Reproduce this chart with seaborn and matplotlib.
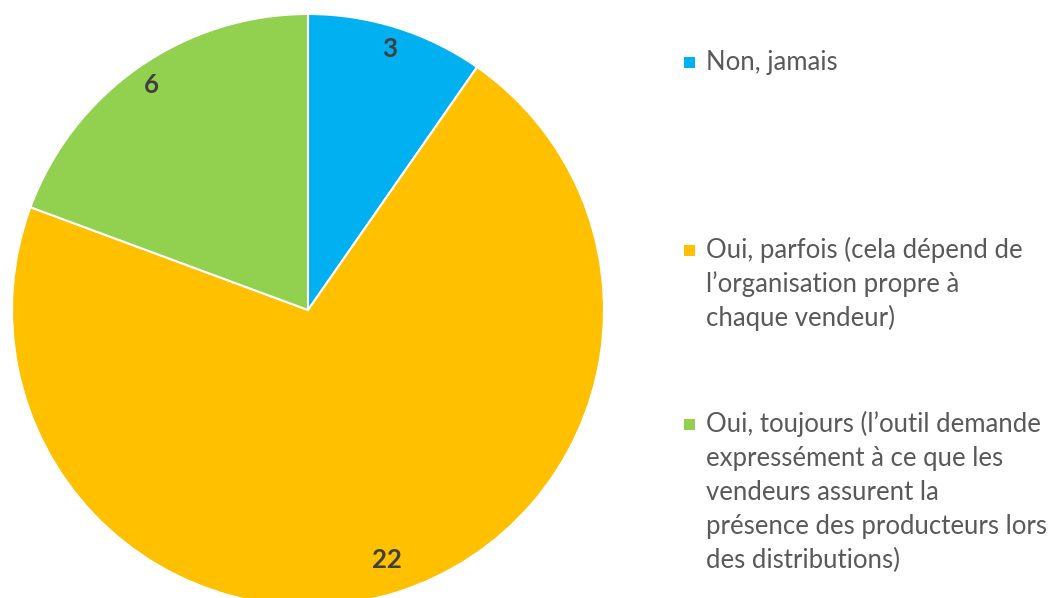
import matplotlib
matplotlib.use("Agg")
import matplotlib.pyplot as plt
import seaborn as sns
import numpy as np
from matplotlib.patches import Rectangle

categories = [
    "Non, jamais",
    "Oui, parfois (cela dépend de\nl\u2019organisation propre à\nchaque vendeur)",
    "Oui, toujours (l\u2019outil demande\nexpressément à ce que les\nvendeurs assurent la\nprésence des producteurs lors\ndes distributions)",
]
counts = [3, 22, 6]
colors = ["#00B0F0", "#FFC000", "#92D050"]

sns.set_style("white")
plt.rcParams["font.family"] = ["Lato", "DejaVu Sans"]

W, H = 1048, 598
fig = plt.figure(figsize=(W / 100, H / 100), dpi=100)
ax = fig.add_axes([0, 0, 1, 1])

total = sum(counts)
cx, cy, R = 308, H - 310, 296
wedges, texts, autotexts = ax.pie(
    counts,
    colors=colors,
    startangle=90,
    counterclock=False,
    center=(cx, cy),
    radius=R,
    pctdistance=0.9,
    autopct=lambda p: f"{round(p * total / 100):d}",
    wedgeprops=dict(edgecolor="white", linewidth=1.5),
    textprops=dict(fontsize=18.5, fontweight="bold", color="#404040"),
)
# nudge the value labels radially (Excel "best fit" look)
label_dist = [0.925, 0.885, 0.925]
for w, t, d in zip(wedges, autotexts, label_dist):
    ang = np.deg2rad((w.theta1 + w.theta2) / 2)
    t.set_position((cx + d * R * np.cos(ang), cy + d * R * np.sin(ang)))

ax.set_xlim(0, W)
ax.set_ylim(0, H)
ax.set_aspect("equal")
ax.axis("off")

# legend, placed by hand (first-line baselines in pixels)
first_baselines = [70, 258, 432]
line_step = 34
for wedge, label, base in zip(wedges, categories, first_baselines):
    sq = 11
    fig.patches.append(Rectangle((684 / W, (H - base + 8 - sq / 2) / H), sq / W, sq / H,
                                 transform=fig.transFigure, facecolor=wedge.get_facecolor(),
                                 edgecolor="none"))
    for i, line in enumerate(label.split("\n")):
        fig.text(706 / W, (H - base - i * line_step) / H, line, fontsize=18.5,
                 color="#595959", va="baseline", ha="left")

fig.savefig("out.png", dpi=100)
